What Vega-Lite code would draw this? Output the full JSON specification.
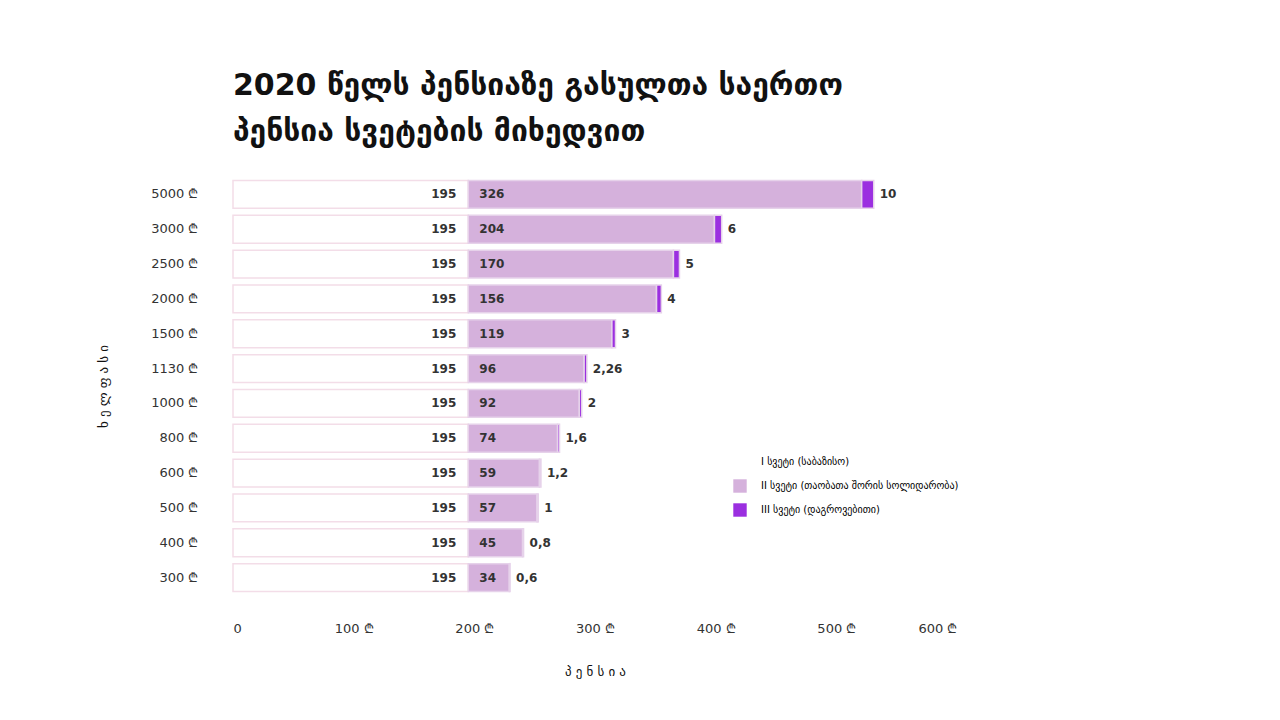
{
  "$schema": "https://vega.github.io/schema/vega-lite/v6.json",
  "width": 724,
  "height": 418,
  "autosize": "none",
  "padding": {"left": 233, "top": 177, "right": 323, "bottom": 125},
  "background": "white",
  "config": {"view": {"stroke": null}, "font": "DejaVu Sans"},
  "title": {
    "text": ["2020 წელს პენსიაზე გასულთა საერთო", "პენსია სვეტების მიხედვით"],
    "anchor": "start",
    "frame": "group",
    "fontSize": 30,
    "fontWeight": "bold",
    "color": "#111111",
    "lineHeight": 46,
    "offset": 30
  },
  "data": {
    "values": [
      {"wage": "5000 ₾", "ord": 1, "pillar": "I სვეტი (საბაზისო)", "p": 1, "v": 195, "lbl": "195"},
      {"wage": "5000 ₾", "ord": 1, "pillar": "II სვეტი (თაობათა შორის სოლიდარობა)", "p": 2, "v": 326, "lbl": "326"},
      {"wage": "5000 ₾", "ord": 1, "pillar": "III სვეტი (დაგროვებითი)", "p": 3, "v": 10, "lbl": "10"},
      {"wage": "3000 ₾", "ord": 2, "pillar": "I სვეტი (საბაზისო)", "p": 1, "v": 195, "lbl": "195"},
      {"wage": "3000 ₾", "ord": 2, "pillar": "II სვეტი (თაობათა შორის სოლიდარობა)", "p": 2, "v": 204, "lbl": "204"},
      {"wage": "3000 ₾", "ord": 2, "pillar": "III სვეტი (დაგროვებითი)", "p": 3, "v": 6, "lbl": "6"},
      {"wage": "2500 ₾", "ord": 3, "pillar": "I სვეტი (საბაზისო)", "p": 1, "v": 195, "lbl": "195"},
      {"wage": "2500 ₾", "ord": 3, "pillar": "II სვეტი (თაობათა შორის სოლიდარობა)", "p": 2, "v": 170, "lbl": "170"},
      {"wage": "2500 ₾", "ord": 3, "pillar": "III სვეტი (დაგროვებითი)", "p": 3, "v": 5, "lbl": "5"},
      {"wage": "2000 ₾", "ord": 4, "pillar": "I სვეტი (საბაზისო)", "p": 1, "v": 195, "lbl": "195"},
      {"wage": "2000 ₾", "ord": 4, "pillar": "II სვეტი (თაობათა შორის სოლიდარობა)", "p": 2, "v": 156, "lbl": "156"},
      {"wage": "2000 ₾", "ord": 4, "pillar": "III სვეტი (დაგროვებითი)", "p": 3, "v": 4, "lbl": "4"},
      {"wage": "1500 ₾", "ord": 5, "pillar": "I სვეტი (საბაზისო)", "p": 1, "v": 195, "lbl": "195"},
      {"wage": "1500 ₾", "ord": 5, "pillar": "II სვეტი (თაობათა შორის სოლიდარობა)", "p": 2, "v": 119, "lbl": "119"},
      {"wage": "1500 ₾", "ord": 5, "pillar": "III სვეტი (დაგროვებითი)", "p": 3, "v": 3, "lbl": "3"},
      {"wage": "1130 ₾", "ord": 6, "pillar": "I სვეტი (საბაზისო)", "p": 1, "v": 195, "lbl": "195"},
      {"wage": "1130 ₾", "ord": 6, "pillar": "II სვეტი (თაობათა შორის სოლიდარობა)", "p": 2, "v": 96, "lbl": "96"},
      {"wage": "1130 ₾", "ord": 6, "pillar": "III სვეტი (დაგროვებითი)", "p": 3, "v": 2.26, "lbl": "2,26"},
      {"wage": "1000 ₾", "ord": 7, "pillar": "I სვეტი (საბაზისო)", "p": 1, "v": 195, "lbl": "195"},
      {"wage": "1000 ₾", "ord": 7, "pillar": "II სვეტი (თაობათა შორის სოლიდარობა)", "p": 2, "v": 92, "lbl": "92"},
      {"wage": "1000 ₾", "ord": 7, "pillar": "III სვეტი (დაგროვებითი)", "p": 3, "v": 2, "lbl": "2"},
      {"wage": "800 ₾", "ord": 8, "pillar": "I სვეტი (საბაზისო)", "p": 1, "v": 195, "lbl": "195"},
      {"wage": "800 ₾", "ord": 8, "pillar": "II სვეტი (თაობათა შორის სოლიდარობა)", "p": 2, "v": 74, "lbl": "74"},
      {"wage": "800 ₾", "ord": 8, "pillar": "III სვეტი (დაგროვებითი)", "p": 3, "v": 1.6, "lbl": "1,6"},
      {"wage": "600 ₾", "ord": 9, "pillar": "I სვეტი (საბაზისო)", "p": 1, "v": 195, "lbl": "195"},
      {"wage": "600 ₾", "ord": 9, "pillar": "II სვეტი (თაობათა შორის სოლიდარობა)", "p": 2, "v": 59, "lbl": "59"},
      {"wage": "600 ₾", "ord": 9, "pillar": "III სვეტი (დაგროვებითი)", "p": 3, "v": 1.2, "lbl": "1,2"},
      {"wage": "500 ₾", "ord": 10, "pillar": "I სვეტი (საბაზისო)", "p": 1, "v": 195, "lbl": "195"},
      {"wage": "500 ₾", "ord": 10, "pillar": "II სვეტი (თაობათა შორის სოლიდარობა)", "p": 2, "v": 57, "lbl": "57"},
      {"wage": "500 ₾", "ord": 10, "pillar": "III სვეტი (დაგროვებითი)", "p": 3, "v": 1, "lbl": "1"},
      {"wage": "400 ₾", "ord": 11, "pillar": "I სვეტი (საბაზისო)", "p": 1, "v": 195, "lbl": "195"},
      {"wage": "400 ₾", "ord": 11, "pillar": "II სვეტი (თაობათა შორის სოლიდარობა)", "p": 2, "v": 45, "lbl": "45"},
      {"wage": "400 ₾", "ord": 11, "pillar": "III სვეტი (დაგროვებითი)", "p": 3, "v": 0.8, "lbl": "0,8"},
      {"wage": "300 ₾", "ord": 12, "pillar": "I სვეტი (საბაზისო)", "p": 1, "v": 195, "lbl": "195"},
      {"wage": "300 ₾", "ord": 12, "pillar": "II სვეტი (თაობათა შორის სოლიდარობა)", "p": 2, "v": 34, "lbl": "34"},
      {"wage": "300 ₾", "ord": 12, "pillar": "III სვეტი (დაგროვებითი)", "p": 3, "v": 0.6, "lbl": "0,6"}
    ]
  },
  "encoding": {
    "y": {
      "field": "wage", "type": "nominal",
      "sort": {"field": "ord", "op": "min"},
      "scale": {"paddingInner": 0.2, "paddingOuter": 0.1},
      "title": "ხ   ე   ლ   ფ   ა   ს   ი",
      "axis": {"domain": false, "ticks": false, "labelPadding": 35, "labelFontSize": 13, "labelColor": "#333",
               "titleFontSize": 13, "titleFontWeight": "normal", "titlePadding": 40, "titleColor": "#111"}
    }
  },
  "layer": [
    {
      "mark": {"type": "bar", "strokeWidth": 1.5},
      "encoding": {
        "x": {
          "field": "v", "type": "quantitative", "stack": "zero",
          "scale": {"domain": [0, 600]},
          "title": "პ    ე    ნ    ს    ი    ა",
          "axis": {"values": [0, 100, 200, 300, 400, 500, 600], "labelExpr": "datum.value == 0 ? '0' : datum.value + ' ₾'",
                   "grid": false, "domain": false, "ticks": false, "offset": 25, "labelFontSize": 13, "labelColor": "#333",
                   "titleFontSize": 13, "titleFontWeight": "normal", "titlePadding": 30, "titleColor": "#111"}
        },
        "order": {"field": "p"},
        "color": {
          "field": "pillar", "type": "nominal",
          "scale": {
            "domain": ["I სვეტი (საბაზისო)", "II სვეტი (თაობათა შორის სოლიდარობა)", "III სვეტი (დაგროვებითი)"],
            "range": ["#ffffff", "#d5b1dc", "#9b2fe0"]
          },
          "legend": {"title": null, "orient": "none", "legendX": 500, "legendY": 278, "symbolType": "square",
                     "symbolSize": 180, "symbolStrokeWidth": 0, "labelFontSize": 10, "labelLimit": 400,
                     "rowPadding": 10, "labelOffset": 14}
        },
        "stroke": {
          "condition": {"test": "datum.p == 1", "value": "#f3dde8"},
          "value": "#e6d2ea"
        }
      }
    },
    {
      "transform": [{"filter": "datum.p == 1"}],
      "mark": {"type": "text", "align": "right", "dx": -12, "fontSize": 12, "fontWeight": "bold", "color": "#333"},
      "encoding": {"x": {"field": "v", "type": "quantitative"}, "text": {"field": "lbl"}}
    },
    {
      "transform": [{"filter": "datum.p == 2"}],
      "mark": {"type": "text", "align": "left", "dx": 11, "fontSize": 12, "fontWeight": "bold", "color": "#333"},
      "encoding": {"x": {"datum": 195, "type": "quantitative"}, "text": {"field": "lbl"}}
    },
    {
      "transform": [
        {"joinaggregate": [{"op": "sum", "field": "v", "as": "tot"}], "groupby": ["wage"]},
        {"filter": "datum.p == 3"}
      ],
      "mark": {"type": "text", "align": "left", "dx": 6, "fontSize": 12, "fontWeight": "bold", "color": "#333"},
      "encoding": {"x": {"field": "tot", "type": "quantitative"}, "text": {"field": "lbl"}}
    }
  ]
}
